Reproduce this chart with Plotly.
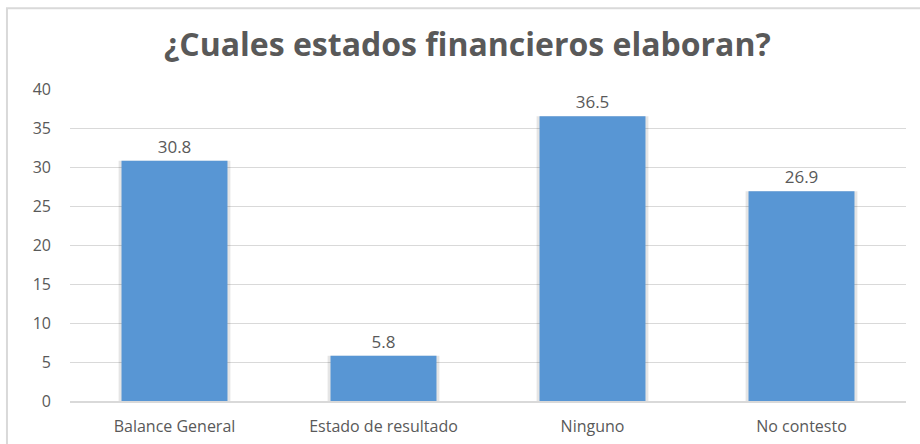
import plotly.graph_objects as go

# data
categories = ["Balance General", "Estado de resultado", "Ninguno", "No contesto"]
values = [30.8, 5.8, 36.5, 26.9]
y_ticks = [0, 5, 10, 15, 20, 25, 30, 35, 40]

TEXT_GRAY = "#595959"
GRID = "#D9D9D9"
BAR_BLUE = "#5896D4"
FONT = "Open Sans, sans-serif"

fig = go.Figure()

# soft shadow behind the bars
fig.add_trace(
    go.Bar(
        x=categories,
        y=values,
        width=0.535,
        marker=dict(color="rgba(0,0,0,0.10)", line=dict(width=0)),
        hoverinfo="skip",
        showlegend=False,
    )
)
fig.add_trace(
    go.Bar(
        x=categories,
        y=values,
        width=0.507,
        marker=dict(color=BAR_BLUE, line=dict(width=0)),
        text=[f"{v:.1f}" for v in values],
        textposition="outside",
        textfont=dict(size=17, color=TEXT_GRAY, family=FONT),
        cliponaxis=False,
        showlegend=False,
    )
)

fig.update_layout(
    width=920,
    height=444,
    barmode="overlay",
    paper_bgcolor="white",
    plot_bgcolor="white",
    font=dict(family=FONT, color=TEXT_GRAY, size=16),
    margin=dict(l=70, r=14, t=89, b=43),
    title=dict(
        text="<b>¿Cuales estados financieros elaboran?</b>",
        x=0.508,
        xanchor="center",
        y=0.9,
        yanchor="middle",
        font=dict(size=32, color=TEXT_GRAY, family=FONT),
    ),
)

fig.update_xaxes(
    automargin=False,
    showgrid=False,
    showline=True,
    linecolor=GRID,
    linewidth=1.5,
    ticks="",
    ticklabelstandoff=10,
    tickfont=dict(size=16, color=TEXT_GRAY),
)
fig.update_yaxes(
    automargin=False,
    range=[0, 40],
    tickvals=y_ticks,
    showgrid=True,
    gridcolor=GRID,
    gridwidth=1,
    zeroline=False,
    showline=False,
    ticks="",
    ticklabelstandoff=18,
    tickfont=dict(size=16, color=TEXT_GRAY),
)

# outer chart frame (partly cut off at right / bottom like the source)
fig.add_shape(
    type="rect",
    xref="paper",
    yref="paper",
    x0=-0.0754,
    x1=1.05,
    y0=-0.3,
    y1=1.259,
    line=dict(color=GRID, width=2),
    fillcolor="rgba(0,0,0,0)",
    layer="below",
)

# drop the default page margin so the figure sits at the window origin
fig.write_html(
    "out.html",
    config={"displayModeBar": False},
    post_script="document.body.style.margin='0px';",
)
